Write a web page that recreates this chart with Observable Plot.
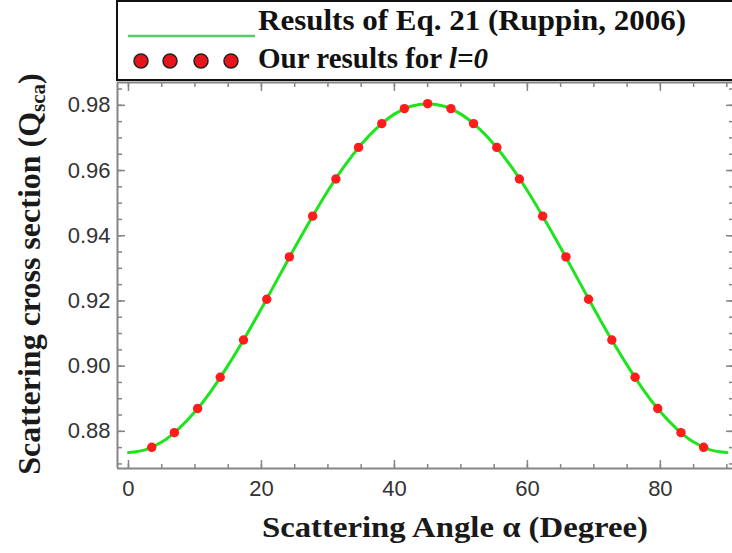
<!DOCTYPE html>
<html><head><meta charset="utf-8">
<script src="https://cdn.jsdelivr.net/npm/d3@7"></script>
<script src="https://cdn.jsdelivr.net/npm/@observablehq/plot@0.6"></script>
<style>body{margin:0;background:#fff}</style>
</head><body><div id="chart"></div>
<script>
// Curve: Results of Eq. 21 (Ruppin, 2006)
const lineAngle = [0,2.5,5,7.5,10,12.5,15,17.5,20,22.5,25,27.5,30,32.5,35,37.5,40,42.5,45,47.5,50,52.5,55,57.5,60,62.5,65,67.5,70,72.5,75,77.5,80,82.5,85,87.5,90];
const lineQ = [0.8735,0.8743,0.8767,0.8807,0.8860,0.8926,0.9003,0.9087,0.9177,0.9270,0.9363,0.9453,0.9538,0.9614,0.9680,0.9733,0.9773,0.9797,0.9805,0.9797,0.9773,0.9733,0.9680,0.9614,0.9538,0.9453,0.9363,0.9270,0.9177,0.9087,0.9003,0.8926,0.8860,0.8807,0.8767,0.8743,0.8735];
// Points: Our results for l=0
const dotAngle = [3.5,6.9,10.4,13.8,17.3,20.8,24.2,27.7,31.2,34.6,38.1,41.5,45.0,48.5,51.9,55.4,58.8,62.3,65.8,69.2,72.7,76.2,79.6,83.1,86.5];
const dotQ = [0.8751,0.8796,0.8870,0.8966,0.9080,0.9205,0.9335,0.9460,0.9574,0.9671,0.9744,0.9790,0.9805,0.9790,0.9744,0.9671,0.9574,0.9460,0.9335,0.9205,0.9080,0.8966,0.8870,0.8796,0.8751];
// Ticks
const xMajorTicks = [0,20,40,60,80];
const xMinorTicks = [0,5,10,15,20,25,30,35,40,45,50,55,60,65,70,75,80,85,90];
const yMajorTicks = [0.88,0.90,0.92,0.94,0.96,0.98];
const yMinorTicks = [0.87,0.875,0.88,0.885,0.89,0.895,0.90,0.905,0.91,0.915,0.92,0.925,0.93,0.935,0.94,0.945,0.95,0.955,0.96,0.965,0.97,0.975,0.98,0.985];
const xDomain = [-1.65, 91];
const yDomain = [0.8686, 0.987];

const lineData = lineAngle.map((a, i) => ({a, q: lineQ[i]}));
const dotData = dotAngle.map((a, i) => ({a, q: dotQ[i]}));

const axisGray = "#858585";
const serif = "'Liberation Serif','Times New Roman',serif";

const chart = Plot.plot({
  width: 732, height: 553,
  marginTop: 82, marginBottom: 85, marginLeft: 117, marginRight: 0,
  style: {fontFamily: "'Liberation Sans',Arial,sans-serif", fontSize: "22px", color: "#333", background: "#fff", overflow: "visible"},
  x: {domain: xDomain, range: [117, 733]},
  y: {domain: yDomain},
  marks: [
    Plot.ruleX([xDomain[0]], {stroke: axisGray, strokeWidth: 2}),
    Plot.ruleY([yDomain[0]], {stroke: axisGray, strokeWidth: 2}),
    Plot.ruleY([yDomain[1]], {stroke: axisGray, strokeWidth: 2}),
    Plot.axisX({anchor: "bottom", ticks: xMinorTicks, tickSize: -4, tickFormat: () => "", label: null, stroke: axisGray, strokeWidth: 1.5}),
    Plot.axisX({anchor: "bottom", ticks: xMajorTicks, tickSize: -8, tickFormat: () => "", label: null, stroke: axisGray, strokeWidth: 1.5}),
    Plot.axisX({anchor: "top", ticks: xMinorTicks, tickSize: -4, tickFormat: () => "", label: null, stroke: axisGray, strokeWidth: 1.5}),
    Plot.axisX({anchor: "top", ticks: xMajorTicks, tickSize: -8, tickFormat: () => "", label: null, stroke: axisGray, strokeWidth: 1.5}),
    Plot.axisY({anchor: "left", ticks: yMinorTicks, tickSize: -5, tickFormat: () => "", label: null, stroke: axisGray, strokeWidth: 1.5}),
    Plot.axisY({anchor: "left", ticks: yMajorTicks, tickSize: -8, tickFormat: () => "", label: null, stroke: axisGray, strokeWidth: 1.5}),
    Plot.axisY({anchor: "right", ticks: yMinorTicks, tickSize: -4, tickFormat: () => "", label: null, stroke: axisGray, strokeWidth: 1.5}),
    Plot.axisY({anchor: "right", ticks: yMajorTicks, tickSize: -7, tickFormat: () => "", label: null, stroke: axisGray, strokeWidth: 1.5}),
    Plot.axisX({anchor: "bottom", ticks: xMajorTicks, tickSize: 0, tickPadding: 12, label: null, fill: "#333"}),
    Plot.axisY({anchor: "left", ticks: yMajorTicks, tickSize: 0, tickPadding: 7, tickFormat: d3.format(".2f"), label: null, fill: "#333"}),
    Plot.line(lineData, {x: "a", y: "q", stroke: "#1de41d", strokeWidth: 3, curve: "catmull-rom"}),
    Plot.dot(dotData, {x: "a", y: "q", r: 4.7, fill: "#ff1c1c", stroke: "none"})
  ]
});

const svg = d3.select(chart);

// Legend box
const lg = svg.append("g").attr("font-family", serif).attr("font-weight", "bold").attr("fill", "#111").attr("text-anchor", "start");
lg.append("rect").attr("x", 117).attr("y", 1).attr("width", 625).attr("height", 79)
  .attr("fill", "#fff").attr("stroke", "#111").attr("stroke-width", 2);
lg.append("line").attr("x1", 128).attr("x2", 255).attr("y1", 36).attr("y2", 36)
  .attr("stroke", "#55cc66").attr("stroke-width", 2.5);
[141, 170, 201, 231].forEach(cx => {
  lg.append("circle").attr("cx", cx).attr("cy", 61).attr("r", 7)
    .attr("fill", "#e8141c").attr("stroke", "#222").attr("stroke-width", 1.5);
});
lg.append("text").attr("x", 258).attr("y", 30).attr("font-size", 30).attr("text-anchor", "start")
  .attr("textLength", 428).attr("lengthAdjust", "spacingAndGlyphs")
  .text("Results of Eq. 21 (Ruppin, 2006)");
const t2 = lg.append("text").attr("x", 258).attr("y", 68).attr("font-size", 29).attr("text-anchor", "start");
t2.append("tspan").text("Our results for ");
t2.append("tspan").attr("font-style", "italic").text("l=0");

// Axis titles
svg.append("text").attr("x", 455).attr("y", 537).attr("text-anchor", "middle")
  .attr("font-family", serif).attr("font-weight", "bold").attr("font-size", 30).attr("fill", "#1a1a1a")
  .attr("textLength", 386).attr("lengthAdjust", "spacingAndGlyphs")
  .text("Scattering Angle α (Degree)");
const yt = svg.append("text").attr("transform", "translate(40,274) rotate(-90)").attr("text-anchor", "middle")
  .attr("font-family", serif).attr("font-weight", "bold").attr("font-size", 32).attr("fill", "#1a1a1a");
yt.append("tspan").text("Scattering cross section (Q");
yt.append("tspan").attr("font-size", 21).attr("dy", 5).text("sca");
yt.append("tspan").attr("dy", -5).text(")");

document.getElementById("chart").appendChild(chart);
</script>
</body></html>
